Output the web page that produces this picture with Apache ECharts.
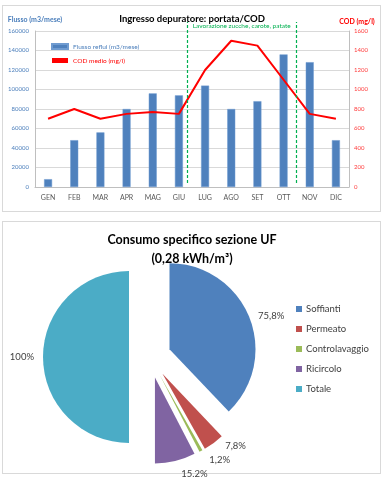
<!DOCTYPE html>
<html><head><meta charset="utf-8">
<script src="https://cdn.jsdelivr.net/npm/echarts@6/dist/echarts.min.js"></script>
<style>
html,body{margin:0;padding:0;background:#fff;}
#c{position:absolute;left:0;top:0;width:384px;height:477px;}
.f{position:absolute;border:1px solid #D9D9D9;box-sizing:border-box;}
</style></head><body>
<div class="f" style="left:2px;top:5px;width:379px;height:207px"></div>
<div class="f" style="left:2px;top:221px;width:379px;height:253px"></div>
<div id="c"></div>
<script>
// ---- data: top chart ----
const months = ['GEN','FEB','MAR','APR','MAG','GIU','LUG','AGO','SET','OTT','NOV','DIC'];
const flussoReflui = [8000,48000,56000,80000,96000,94000,104000,80000,88000,136000,128000,48000];
const codMedio = [700,800,700,750,770,750,1200,1500,1450,1100,750,700];
const phaseBounds = [5.8, 10];
const phaseLabel = 'Lavorazione zucche, carote, patate';
const seriesNames = ['Flusso reflui (m3/mese)','COD medio (mg/l)'];
// ---- data: pie chart ----
const pieNames = ['Soffianti','Permeato','Controlavaggio','Ricircolo','Totale'];
const pieValues = [75.8, 7.8, 1.2, 15.2, 100];
const pieColors = ['#4F81BD','#C0504D','#9BBB59','#8064A2','#4BACC6'];

const F = 'Lato, "Open Sans", sans-serif';
const chart = echarts.init(document.getElementById('c'), null, {renderer:'canvas'});
const plain = v => String(v);
const option = {
  animation:false,
  backgroundColor:'transparent',
  textStyle:{fontFamily:F},
  title:[
    {text:'Ingresso depuratore: portata/COD', left:'center', top:9,
     textStyle:{fontFamily:F, fontSize:9.5, fontWeight:'bold', color:'#000'}},
    {text:'Consumo specifico sezione UF\n(0,28 kWh/m³)', left:'center', top:225,
     textStyle:{fontFamily:F, fontSize:12.5, fontWeight:'bold', color:'#000', lineHeight:19}}
  ],
  legend:[
    {data:[{name:seriesNames[0], textStyle:{color:'#4A7EBB'}},{name:seriesNames[1], icon:'rect', textStyle:{color:'#FF0000'}}],
     orient:'vertical', left:46, top:38, itemWidth:16, itemHeight:5, itemGap:7, icon:'rect',
     textStyle:{fontFamily:F, fontSize:6.5}, selectedMode:false},
    {data:pieNames, orient:'vertical', left:291, top:299, itemWidth:6, itemHeight:6, itemGap:10, icon:'rect',
     textStyle:{fontFamily:F, fontSize:9.5, color:'#404040', padding:[0,0,0,-1]}, selectedMode:false}
  ],
  grid:[
    {left:35, right:35, top:31, bottom:290},
    {left:35, right:35, top:22, bottom:294}
  ],
  xAxis:[
    {type:'category', data:months, gridIndex:0,
     axisLine:{lineStyle:{color:'#BFBFBF'}}, axisTick:{show:false},
     axisLabel:{color:'#595959', fontSize:7, margin:7, fontFamily:F}},
    {type:'value', gridIndex:1, min:0, max:12, show:false}
  ],
  yAxis:[
    {type:'value', gridIndex:0, min:0, max:160000, interval:20000, name:'Flusso (m3/mese)',
     nameLocation:'end', nameGap:8,
     nameTextStyle:{color:'#4A7EBB', fontSize:7, fontWeight:'bold', fontFamily:F},
     axisLine:{show:true, lineStyle:{color:'#BFBFBF'}}, axisTick:{show:false},
     axisLabel:{color:'#4A7EBB', fontSize:6, margin:6, fontFamily:F, formatter:plain},
     splitLine:{lineStyle:{color:'#D9D9D9'}}},
    {type:'value', gridIndex:0, position:'right', min:0, max:1600, interval:200, name:'COD (mg/l)',
     nameLocation:'end', nameGap:6,
     nameTextStyle:{color:'#FF0000', fontSize:7, fontWeight:'bold', fontFamily:F, padding:[0,0,0,16]},
     axisLine:{show:true, lineStyle:{color:'#BFBFBF'}}, axisTick:{show:false},
     axisLabel:{color:'#FF3B3B', fontSize:6, margin:5, fontFamily:F, formatter:plain},
     splitLine:{show:false}},
    {type:'value', gridIndex:1, min:0, max:1, show:false}
  ],
  series:[
    {name:seriesNames[0], type:'bar', xAxisIndex:0, yAxisIndex:0, data:flussoReflui, barWidth:8,
     itemStyle:{color:'#4F81BD', borderColor:'#6F9BD0', borderWidth:0.5}, silent:true},
    {name:seriesNames[1], type:'line', xAxisIndex:0, yAxisIndex:1, data:codMedio,
     symbol:'none', lineStyle:{color:'#FF0000', width:2}, itemStyle:{color:'#FF0000'}, silent:true},
    {type:'line', xAxisIndex:1, yAxisIndex:2, data:[], silent:true,
     markLine:{symbol:'none', silent:true, label:{show:false},
       lineStyle:{color:'#00B050', type:[3,2], width:1.2},
       data:phaseBounds.map(v=>({xAxis:v}))},
     markArea:{silent:true, itemStyle:{color:'rgba(0,0,0,0)'},
       label:{show:true, position:'insideTop', distance:0, color:'#00B050', fontSize:6.5, fontFamily:F},
       data:[[{name:phaseLabel, xAxis:phaseBounds[0]},{xAxis:phaseBounds[1]}]]}},
    {type:'pie', center:[150,357], radius:86, startAngle:90, clockwise:true,
     selectedMode:'multiple', selectedOffset:21, silent:true,
     emphasis:{disabled:true},
     label:{show:true, position:'outside', color:'#404040', fontSize:9.5, fontFamily:F,
       formatter:p=>String(p.value).replace('.',',')+'%'},
     labelLine:{show:false, length:4, length2:0},
     data:pieNames.map((n,i)=>({name:n, value:pieValues[i], selected:true, itemStyle:{color:pieColors[i]}}))}
  ]
};
chart.setOption(option);
</script>
</body></html>
